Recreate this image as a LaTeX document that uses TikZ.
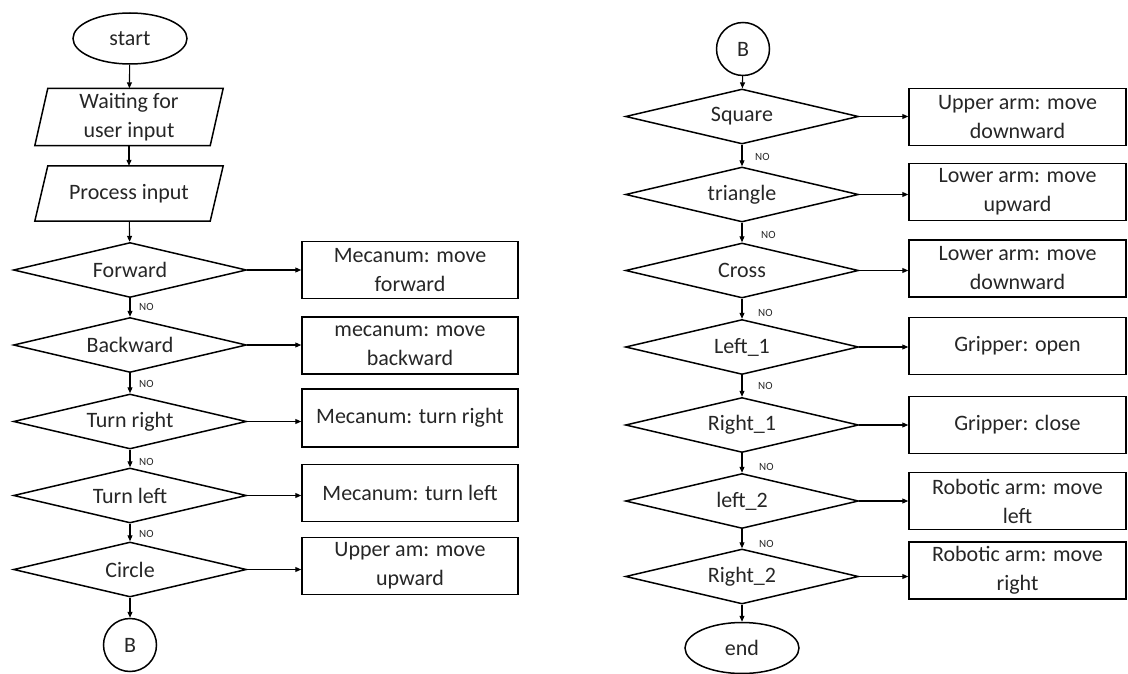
\documentclass[tikz,border=0pt]{standalone}
\usepackage{fontspec}
\setmainfont{Carlito}
\usetikzlibrary{shapes.geometric,arrows.meta,calc}
\begin{document}
\begin{tikzpicture}[x=1pt,y=-1pt,
  every node/.style={font=\fontsize{22}{29}\selectfont, text=black!85},
  dec/.style={diamond, draw, line width=1.5pt, aspect=4.25, inner sep=0pt, minimum width=233pt, minimum height=55pt},
  act/.style={rectangle, draw, line width=1.5pt, minimum width=216pt, minimum height=57pt, align=center, inner sep=0pt},
  term/.style={ellipse, draw, line width=1.5pt, minimum width=114pt, minimum height=51pt, inner sep=0pt},
  conn/.style={circle, draw, line width=1.5pt, minimum size=53pt, inner sep=0pt},
  io/.style={rectangle, minimum width=175pt, minimum height=57pt, align=center, inner sep=0pt},
  iobox/.style={line width=1.5pt},
  flow/.style={-{Triangle[length=6pt,width=5pt]}, line width=1.1pt},
  nolab/.style={font=\fontsize{11}{13}\selectfont, anchor=west, inner sep=0pt}
]
\useasboundingbox (0,0) rectangle (1128,674);

% ---------- left column ----------
\node[term] (start) at (130,38.5) {start};
\node[io] (p1) at (129,117) {Waiting for\\user input};
\node[io, minimum height=55pt] (p2) at (129,193.5) {Process input};
\draw[iobox] ($(p1.south west)+(-6.5,0)$) -- ($(p1.north west)+(6.5,0)$) -- ($(p1.north east)+(6.5,0)$) -- ($(p1.south east)+(-6.5,0)$) -- cycle;
\draw[iobox] ($(p2.south west)+(-6.5,0)$) -- ($(p2.north west)+(6.5,0)$) -- ($(p2.north east)+(6.5,0)$) -- ($(p2.south east)+(-6.5,0)$) -- cycle;

\node[dec] (d1) at (130,270) {Forward};
\node[dec] (d2) at (130,345) {Backward};
\node[dec] (d3) at (130,421.5) {Turn right};
\node[dec] (d4) at (130,495.5) {Turn left};
\node[dec] (d5) at (130,569.5) {Circle};
\node[conn] (b1) at (130,645) {B};

\node[act] (a1) at (410,270) {Mecanum: move\\forward};
\node[act] (a2) at (410,345.5) {mecanum: move\\backward};
\node[act, minimum height=58pt] (a3) at (410,418) {Mecanum: turn right};
\node[act] (a4) at (410,493) {Mecanum: turn left};
\node[act] (a5) at (410,566) {Upper am: move\\upward};

\draw[flow] (start) -- (p1);
\draw[flow] (p1) -- (p2);
\draw[flow] (p2) -- (d1);
\draw[flow] (d1) -- (d2);
\draw[flow] (d2) -- (d3);
\draw[flow] (d3) -- (d4);
\draw[flow] (d4) -- (d5);
\draw[flow] (d5) -- (b1);
\foreach \i in {1,...,5}{\draw[flow] (d\i.east) -- (d\i.east -| a\i.west);}

\node[nolab] (n1) at (139,307) {NO};
\node[nolab] (n2) at (139,384) {NO};
\node[nolab] (n3) at (139,462) {NO};
\node[nolab] (n4) at (139,534) {NO};

% ---------- right column ----------
\node[conn] (b2) at (743,49) {B};
\node[dec] (s1) at (742,116.5) {Square};
\node[dec] (s2) at (742,194.5) {triangle};
\node[dec] (s3) at (742,270.5) {Cross};
\node[dec] (s4) at (742,347) {Left\_1};
\node[dec] (s5) at (742,425) {Right\_1};
\node[dec] (s6) at (742,501) {left\_2};
\node[dec] (s7) at (742,576.5) {Right\_2};
\node[term] (end) at (742,648) {end};

\node[act, minimum width=217pt] (r1) at (1017.5,117) {Upper arm: move\\downward};
\node[act, minimum width=217pt] (r2) at (1017.5,192) {Lower arm: move\\upward};
\node[act, minimum width=217pt] (r3) at (1017.5,268.5) {Lower arm: move\\downward};
\node[act, minimum width=217pt] (r4) at (1017.5,346) {Gripper: open};
\node[act, minimum width=217pt] (r5) at (1017.5,425) {Gripper: close};
\node[act, minimum width=217pt] (r6) at (1017.5,501) {Robotic arm: move\\left};
\node[act, minimum width=217pt] (r7) at (1017.5,570.5) {Robotic arm: move\\right};

\draw[flow] (b2) -- (s1);
\draw[flow] (s1) -- (s2);
\draw[flow] (s2) -- (s3);
\draw[flow] (s3) -- (s4);
\draw[flow] (s4) -- (s5);
\draw[flow] (s5) -- (s6);
\draw[flow] (s6) -- (s7);
\draw[flow] (s7) -- (end);
\foreach \i in {1,...,7}{\draw[flow] (s\i.east) -- (s\i.east -| r\i.west);}

\node[nolab] (m1) at (755,157) {NO};
\node[nolab] (m2) at (761,235) {NO};
\node[nolab] (m3) at (758,313) {NO};
\node[nolab] (m4) at (758,386) {NO};
\node[nolab] (m5) at (759,467) {NO};
\node[nolab] (m6) at (759,544) {NO};
\end{tikzpicture}
\end{document}
